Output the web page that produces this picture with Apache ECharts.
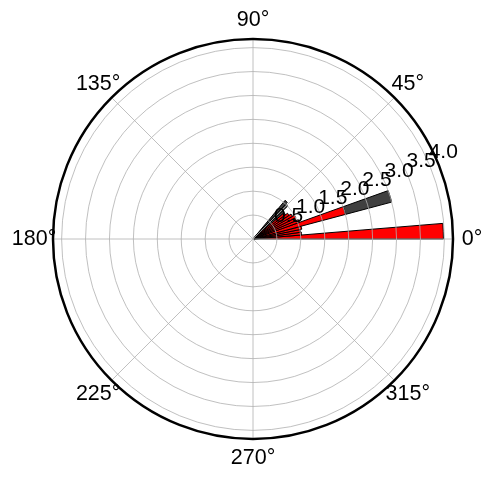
<!DOCTYPE html>
<html>
<head>
<meta charset="utf-8">
<script src="https://cdn.jsdelivr.net/npm/echarts@6/dist/echarts.min.js"></script>
<style>
html,body{margin:0;padding:0;background:#fff;}
#chart{width:492px;height:478px;}
</style>
</head>
<body>
<div id="chart"></div>
<script>
// Angle tick labels (degrees) and radial tick labels
const angleTicks = [0, 45, 90, 135, 180, 225, 270, 315];
const radiusTicks = [0.5, 1.0, 1.5, 2.0, 2.5, 3.0, 3.5, 4.0];
const radiusMax = 4.18;

// Red bars: centre angle (deg), width (deg), height
const redTheta  = [2.35, 6.4, 9.7, 13.0, 17.3, 21.4, 24.8, 28.2, 31.6, 35.0, 38.4];
const redWidth  = [4.7, 3.3, 3.3, 3.3, 4.8, 3.4, 3.4, 3.4, 3.4, 3.4, 3.4];
const redHeight = [3.98, 1.02, 1.0, 1.04, 2.0, 1.03, 0.98, 1.0, 0.95, 0.9, 0.85];

// Dark grey bars: centre angle (deg), width (deg), base, top
const greyTheta  = [17.3, 41.8, 45.2, 48.6];
const greyWidth  = [4.8, 3.4, 3.4, 3.4];
const greyBase   = [2.0, 0, 0, 0];
const greyHeight = [3.0, 0.85, 1.0, 1.05];

const FONT = 'Liberation Sans, Arial, sans-serif';

function wedgeRenderer(color) {
  return function (params, api) {
    const cs = params.coordSys;
    const cx = cs.cx, cy = cs.cy;
    const top = api.value(0), th = api.value(1), w = api.value(2), base = api.value(3);
    const pTop = api.coord([top, th]);
    const pBase = api.coord([base, th]);
    const rTop = Math.hypot(pTop[0] - cx, pTop[1] - cy);
    const rBase = Math.hypot(pBase[0] - cx, pBase[1] - cy);
    const pa1 = api.coord([top, th - w / 2]);
    const pa2 = api.coord([top, th + w / 2]);
    const ang1 = Math.atan2(pa1[1] - cy, pa1[0] - cx);
    const ang2 = Math.atan2(pa2[1] - cy, pa2[0] - cx);
    return {
      type: 'sector',
      shape: { cx: cx, cy: cy, r0: rBase, r: rTop, startAngle: Math.min(ang1, ang2), endAngle: Math.max(ang1, ang2), clockwise: true },
      style: { fill: color, stroke: '#000', lineWidth: 1 }
    };
  };
}

const redData = redTheta.map((t, i) => [redHeight[i], t, redWidth[i], 0]);
const greyData = greyTheta.map((t, i) => [greyHeight[i], t, greyWidth[i], greyBase[i]]);

const chart = echarts.init(document.getElementById('chart'), null, { renderer: 'canvas' });
const option = {
  animation: false,
  backgroundColor: '#fff',
  polar: [
    { center: [253, 239], radius: 200 },
    { center: [253, 239], radius: 200 }
  ],
  angleAxis: [
    {
      polarIndex: 0, type: 'value', min: 0, max: 360, interval: 45,
      startAngle: 0, clockwise: false, z: 5,
      axisLine: { show: true, lineStyle: { color: '#000', width: 2.5 } },
      axisTick: { show: false },
      axisLabel: { show: false },
      splitLine: { show: true, lineStyle: { color: '#b0b0b0', width: 0.8 } }
    },
    {
      polarIndex: 1, type: 'value', min: 0, max: 360, startAngle: 22.5, clockwise: false,
      axisLine: { show: false }, axisTick: { show: false }, axisLabel: { show: false }, splitLine: { show: false }
    }
  ],
  radiusAxis: [
    {
      polarIndex: 0, type: 'value', min: 0, max: radiusMax, interval: 0.5, z: 5,
      axisLine: { show: false }, axisTick: { show: false }, axisLabel: { show: false },
      splitLine: { show: true, lineStyle: { color: '#b0b0b0', width: 0.8 } }
    },
    {
      polarIndex: 1, type: 'value', min: 0, max: radiusMax, interval: 0.5, z: 6,
      axisLine: { show: false }, axisTick: { show: false }, splitLine: { show: false },
      axisLabel: {
        show: true, margin: 3, align: 'left', verticalAlign: 'bottom',
        fontSize: 21, color: '#000', fontFamily: FONT,
        formatter: v => {
          const k = radiusTicks.findIndex(t => Math.abs(t - v) < 1e-6);
          return k >= 0 ? radiusTicks[k].toFixed(1) : '';
        }
      }
    }
  ],
  series: [
    {
      type: 'custom', coordinateSystem: 'polar', polarIndex: 0, z: 1,
      renderItem: wedgeRenderer('#404040'),
      encode: { radius: 0, angle: 1 },
      data: greyData
    },
    {
      type: 'custom', coordinateSystem: 'polar', polarIndex: 0, z: 1,
      renderItem: wedgeRenderer('#ff0000'),
      encode: { radius: 0, angle: 1 },
      data: redData
    }
  ]
};
chart.setOption(option);

// Angle tick labels, centred just outside the outer circle (positions from the polar scale)
const labelRadius = radiusMax * 1.095;
const angleLabels = angleTicks.map(a => {
  const p = chart.convertToPixel({ seriesIndex: 0 }, [labelRadius, a]);
  return {
    type: 'text', x: p[0], y: p[1], z: 10,
    style: { text: a + '°', align: 'center', verticalAlign: 'middle', font: '21.5px ' + FONT, fill: '#000' }
  };
});
chart.setOption({ graphic: angleLabels });
</script>
</body>
</html>
